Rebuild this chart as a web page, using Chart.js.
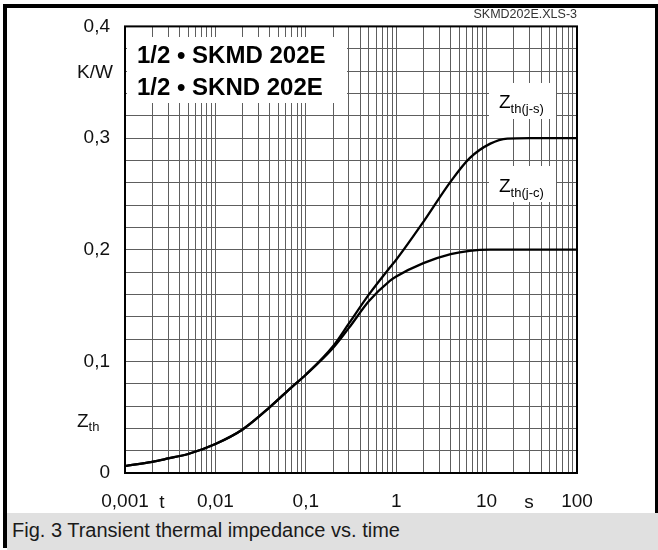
<!DOCTYPE html>
<html>
<head>
<meta charset="utf-8">
<script src="https://cdn.jsdelivr.net/npm/chart.js@4.4.1/dist/chart.umd.min.js"></script>
<style>
  body { margin: 0; background: #fff; font-family: "Liberation Sans", Arial, sans-serif; }
  #wrap { position: relative; width: 658px; height: 550px; overflow: hidden; }
  #chart { position: absolute; left: 0; top: 0; }
  #frame { position: absolute; left: 3px; top: 4px; width: 648px; height: 540px;
           border-left: 4px solid #000; border-top: 4px solid #000; border-right: 3px solid #000; }
  #caption { position: absolute; left: 7px; top: 513px; width: 651px; height: 37px;
             background: #e0e0e0; color: #1a1a1a; font-size: 20px; line-height: 37px; }
  #caption span { position: absolute; left: 5px; top: -1px; }
</style>
</head>
<body>
<div id="wrap">
  <canvas id="chart" width="658" height="513"></canvas>
  <div id="frame"></div>
  <div id="caption"><span>Fig. 3 Transient thermal impedance vs. time</span></div>
</div>
<script>
// time in s
const times = [0.001, 0.002, 0.003, 0.005, 0.01, 0.02, 0.04, 0.07, 0.1, 0.2, 0.3, 0.5, 0.85, 1, 2, 4, 6.5, 11, 17, 30, 100];
// Zth(j-s) in K/W
const zthJS = [0.0062, 0.010, 0.013, 0.017, 0.026, 0.039, 0.059, 0.077, 0.088, 0.1135, 0.134, 0.160, 0.184, 0.191, 0.225, 0.261, 0.282, 0.295, 0.2995, 0.300, 0.300];
// Zth(j-c) in K/W
const zthJC = [0.0062, 0.010, 0.013, 0.017, 0.026, 0.039, 0.059, 0.077, 0.088, 0.112, 0.130, 0.154, 0.172, 0.176, 0.188, 0.196, 0.199, 0.200, 0.200, 0.200, 0.200];

const xDecades = [0.001, 0.01, 0.1, 1, 10, 100];
const xTickLabels = ["0,001", "0,01", "0,1", "1", "10", "100"];
const yTickLabels = ["0", "0,1", "0,2", "0,3", "0,4"];

const FONT = '"Liberation Sans", Arial, sans-serif';

function toPoints(xs, ys) {
  return xs.map((x, i) => ({ x: x, y: ys[i] }));
}

// grid lines at 1..9 of every decade
const xGrid = [];
xDecades.forEach((d, i) => {
  const last = i === xDecades.length - 1;
  for (let m = 1; m <= (last ? 1 : 9); m++) {
    xGrid.push(Number((d * m).toPrecision(3)));
  }
});

function decadeIndex(v) {
  const l = Math.log10(v);
  if (Math.abs(l - Math.round(l)) > 1e-6) return -1;
  return Math.round(l) + 3;
}

// white label boxes and texts on the plot
const notes = {
  id: "notes",
  beforeDatasetsDraw(chart) {
    const ctx = chart.ctx;
    ctx.save();
    ctx.fillStyle = "#fff";
    ctx.fillRect(127, 37, 220, 66);
    ctx.fillRect(489, 83, 67, 36);
    ctx.fillRect(489, 166, 67, 36);

    ctx.fillStyle = "#000";
    ctx.textAlign = "left";
    ctx.textBaseline = "alphabetic";
    ctx.font = "bold 24px " + FONT;
    ctx.fillText("1/2 \u2022 SKMD 202E", 137, 63);
    ctx.fillText("1/2 \u2022 SKND 202E", 137, 95);

    const zLabel = (x, y, sub) => {
      ctx.font = "19px " + FONT;
      ctx.fillText("Z", x, y);
      const w = ctx.measureText("Z").width;
      ctx.font = "13px " + FONT;
      ctx.fillText(sub, x + w, y + 5);
    };
    zLabel(499, 108, "th(j-s)");
    zLabel(499, 192, "th(j-c)");
    ctx.restore();
  },
  afterDraw(chart) {
    const ctx = chart.ctx;
    const a = chart.chartArea;
    ctx.save();
    ctx.strokeStyle = "#000";
    ctx.lineWidth = 2;
    ctx.strokeRect(a.left, a.top, a.right - a.left, a.bottom - a.top);

    ctx.fillStyle = "#111";
    ctx.font = "19px " + FONT;
    ctx.textAlign = "center";
    ctx.textBaseline = "alphabetic";
    ctx.fillText("K/W", 95, 78);
    ctx.fillText("t", 162, 508);
    ctx.fillText("s", 529, 508);

    ctx.textAlign = "left";
    ctx.fillText("Z", 77, 427);
    const w = ctx.measureText("Z").width;
    ctx.font = "13px " + FONT;
    ctx.fillText("th", 77 + w, 431);

    ctx.fillStyle = "#333";
    ctx.font = "12.5px " + FONT;
    ctx.textAlign = "right";
    ctx.fillText("SKMD202E.XLS-3", 577, 18);
    ctx.restore();
  }
};

const chart = new Chart(document.getElementById("chart"), {
  type: "line",
  data: {
    datasets: [
      { label: "Zth(j-s)", data: toPoints(times, zthJS) },
      { label: "Zth(j-c)", data: toPoints(times, zthJC) }
    ]
  },
  options: {
    responsive: false,
    animation: false,
    layout: { padding: { top: 24, right: 81, left: 0, bottom: 0 } },
    elements: {
      line: { borderColor: "#000", borderWidth: 2.3, cubicInterpolationMode: "monotone", fill: false },
      point: { radius: 0 }
    },
    plugins: { legend: { display: false }, tooltip: { enabled: false } },
    scales: {
      x: {
        type: "logarithmic",
        min: 0.001,
        max: 100,
        afterBuildTicks: (axis) => { axis.ticks = xGrid.map((v) => ({ value: v })); },
        afterFit: (axis) => { axis.height = 40; },
        border: { display: false },
        grid: { color: "#5e5e5e", lineWidth: 1, drawTicks: false },
        ticks: {
          autoSkip: false,
          maxRotation: 0,
          padding: 17,
          color: "#111",
          font: { family: FONT, size: 19 },
          callback: (v) => {
            const i = decadeIndex(v);
            return i >= 0 ? xTickLabels[i] : "";
          }
        }
      },
      y: {
        type: "linear",
        min: 0,
        max: 0.4,
        afterFit: (axis) => { axis.width = 125; },
        border: { display: false },
        grid: { color: "#5e5e5e", lineWidth: 1, drawTicks: false },
        ticks: {
          stepSize: 0.02,
          autoSkip: false,
          padding: 15,
          color: "#111",
          font: { family: FONT, size: 19 },
          callback: (v) => {
            const n = Math.round(v * 50);
            return n % 5 === 0 ? yTickLabels[n / 5] : "";
          }
        }
      }
    }
  },
  plugins: [notes]
});
</script>
</body>
</html>
